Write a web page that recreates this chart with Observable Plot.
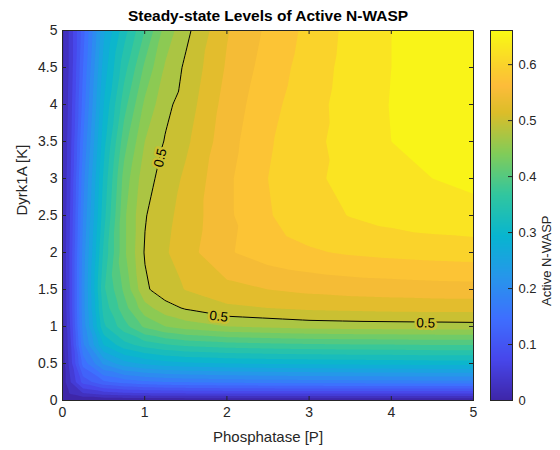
<!DOCTYPE html>
<html><head><meta charset="utf-8">
<script src="https://cdn.jsdelivr.net/npm/d3@7"></script>
<script src="https://cdn.jsdelivr.net/npm/@observablehq/plot@0.6"></script>
<style>
body{margin:0;background:#fff;}
#chart{position:relative;width:560px;height:450px;}
#chart svg{position:absolute;left:0;top:0;}
</style></head><body><div id="chart"></div>
<script>
// Phosphatase [P] sample positions (x) and Dyrk1A [K] sample positions (y)
const phosphatase = [0, 0.1, 0.25, 0.5, 0.75, 1, 1.25, 1.5, 2, 2.5, 3, 3.5, 4, 4.5, 5];
const dyrk1a = [0, 0.1, 0.25, 0.5, 0.75, 1, 1.25, 1.5, 2, 2.5, 3, 3.5, 4, 4.5, 5];
// Active N-WASP: one row per Dyrk1A value, one column per Phosphatase value
const nwaspK0   = [0,0,0,0,0,0,0,0,0,0,0,0,0,0,0];
const nwaspK01  = [0.005,0.03,0.05,0.065,0.072,0.075,0.077,0.078,0.08,0.08,0.08,0.08,0.08,0.08,0.08];
const nwaspK025 = [0.01,0.05,0.11,0.145,0.16,0.17,0.175,0.178,0.182,0.185,0.187,0.188,0.189,0.19,0.19];
const nwaspK05  = [0.01,0.065,0.16,0.23,0.265,0.28,0.29,0.295,0.3,0.303,0.305,0.307,0.308,0.31,0.31];
const nwaspK075 = [0.015,0.072,0.195,0.3,0.34,0.36,0.372,0.38,0.388,0.392,0.395,0.397,0.398,0.4,0.4];
const nwaspK1   = [0.015,0.08,0.21,0.345,0.39,0.43,0.45,0.462,0.475,0.48,0.485,0.487,0.488,0.489,0.49];
const nwaspK125 = [0.02,0.085,0.215,0.36,0.415,0.465,0.49,0.503,0.52,0.525,0.53,0.532,0.534,0.535,0.535];
const nwaspK15  = [0.02,0.085,0.215,0.37,0.43,0.495,0.515,0.526,0.542,0.55,0.556,0.56,0.562,0.564,0.565];
const nwaspK2   = [0.025,0.085,0.21,0.355,0.445,0.502,0.522,0.54,0.572,0.588,0.597,0.603,0.607,0.61,0.612];
const nwaspK25  = [0.025,0.08,0.2,0.34,0.445,0.498,0.518,0.535,0.57,0.598,0.615,0.626,0.634,0.64,0.643];
const nwaspK3   = [0.025,0.075,0.19,0.33,0.435,0.49,0.51,0.53,0.57,0.6,0.62,0.632,0.642,0.65,0.655];
const nwaspK35  = [0.025,0.07,0.175,0.315,0.415,0.475,0.502,0.52,0.565,0.597,0.618,0.635,0.65,0.657,0.66];
const nwaspK4   = [0.022,0.065,0.16,0.3,0.39,0.455,0.493,0.512,0.56,0.592,0.615,0.636,0.651,0.658,0.66];
const nwaspK45  = [0.02,0.06,0.15,0.285,0.365,0.43,0.478,0.505,0.553,0.586,0.611,0.634,0.65,0.657,0.66];
const nwaspK5   = [0.02,0.06,0.14,0.27,0.34,0.4,0.46,0.493,0.548,0.58,0.607,0.632,0.65,0.656,0.66];
const activeNWASP = [nwaspK0,nwaspK01,nwaspK025,nwaspK05,nwaspK075,nwaspK1,nwaspK125,nwaspK15,nwaspK2,nwaspK25,nwaspK3,nwaspK35,nwaspK4,nwaspK45,nwaspK5];

const levels = [0,0.025,0.05,0.075,0.1,0.125,0.15,0.175,0.2,0.225,0.25,0.275,0.3,0.325,0.35,0.375,0.4,0.425,0.45,0.475,0.5,0.525,0.55,0.575,0.6,0.625,0.65];
const lineLevel = [0.5];
const xTicks = [0,1,2,3,4,5];
const yTicks = [0,0.5,1,1.5,2,2.5,3,3.5,4,4.5,5];
const cbTicks = [0,0.1,0.2,0.3,0.4,0.5,0.6];
const colorMax = 0.661;
// contour label anchors (P, K) and angles
const labelP = [1.19, 1.90, 4.42];
const labelK = [3.28, 1.135, 1.045];
const labelAngle = [-77, 6, 1];

const parulaStops = [0,0.111,0.222,0.333,0.444,0.556,0.667,0.778,0.85,0.9,1];
const parulaColors = ["#3e26a8","#4747eb","#3e6fff","#2796eb","#08b5d0","#31c69f","#81cc59","#dcbd29","#fdbc3a","#fad02d","#f9fb14"];

const grid = [];
dyrk1a.forEach((k, i) => phosphatase.forEach((p, j) => grid.push({P: p, K: k, v: activeNWASP[i][j]})));
const labels = labelP.map((p, i) => ({P: p, K: labelK[i], a: labelAngle[i], t: String(lineLevel[0])}));

const fmt = d => String(+d.toFixed(2));
const color = {type: "linear", domain: parulaStops.map(s => s * colorMax), range: parulaColors, interpolate: "rgb", clamp: true};
const style = {fontFamily: "'Liberation Sans', Arial, Helvetica, sans-serif", fontSize: "14px", color: "#262626", background: "transparent", overflow: "visible"};
const ink = "#262626";

const main = Plot.plot({
  width: 560, height: 450,
  marginLeft: 62, marginRight: 87, marginTop: 30, marginBottom: 50,
  style,
  x: {domain: [0, 5]},
  y: {domain: [0, 5]},
  color,
  marks: [
    Plot.contour(grid, {x: "P", y: "K", fill: "v", interpolate: "barycentric", thresholds: levels, stroke: "none", pixelSize: 1}),
    Plot.contour(grid, {x: "P", y: "K", value: "v", interpolate: "barycentric", thresholds: lineLevel, fill: "none", stroke: "black", strokeWidth: 1, pixelSize: 1}),
    Plot.text(labels, {x: "P", y: "K", text: "t", rotate: "a", stroke: () => lineLevel[0], strokeWidth: 5, paintOrder: "stroke", fill: "black", fontSize: 13.5}),
    Plot.ruleX(xTicks, {x: d => d, insetTop: 366, stroke: ink}),
    Plot.ruleX(xTicks, {x: d => d, insetBottom: 366, stroke: ink}),
    Plot.ruleY(yTicks, {y: d => d, insetRight: 407, stroke: ink}),
    Plot.ruleY(yTicks, {y: d => d, insetLeft: 407, stroke: ink}),
    Plot.frame({stroke: ink}),
    Plot.axisX({ticks: xTicks, tickFormat: fmt, tickSize: 0, tickPadding: 7, label: null, fontSize: 14}),
    Plot.axisY({ticks: yTicks, tickFormat: fmt, tickSize: 0, tickPadding: 5, label: null, fontSize: 14}),
    Plot.text(["Steady-state Levels of Active N-WASP"], {frameAnchor: "top", dy: -14, lineAnchor: "middle", fontWeight: "bold", fontSize: 15.5, fill: "black"}),
    Plot.text(["Phosphatase [P]"], {frameAnchor: "bottom", dy: 37, lineAnchor: "middle", fontSize: 15}),
    Plot.text(["Dyrk1A [K]"], {frameAnchor: "left", dx: -40, rotate: -90, lineAnchor: "middle", fontSize: 15})
  ]
});

const bar = Plot.plot({
  width: 560, height: 450,
  marginLeft: 490, marginRight: 48, marginTop: 30, marginBottom: 50,
  style,
  x: {domain: [0, 1], axis: null},
  y: {domain: [0, colorMax]},
  color,
  marks: [
    Plot.raster({fill: (x, y) => y, x1: 0, x2: 1, y1: 0, y2: colorMax, pixelSize: 1}),
    Plot.ruleY(cbTicks, {y: d => d, insetLeft: 18, stroke: ink}),
    Plot.frame({stroke: ink}),
    Plot.axisY({anchor: "right", ticks: cbTicks, tickFormat: fmt, tickSize: 0, tickPadding: 6, label: null, fontSize: 13}),
    Plot.text(["Active N-WASP"], {frameAnchor: "right", dx: 34, rotate: -90, lineAnchor: "middle", fontSize: 13})
  ]
});

const holder = document.getElementById("chart");
holder.appendChild(main);
holder.appendChild(bar);
</script>
</body></html>
